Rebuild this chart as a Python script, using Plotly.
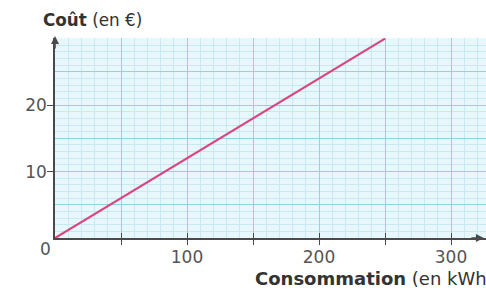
import plotly.graph_objects as go

# Data
consumption_kwh = [0, 250]
cost_eur = [0, 30]

x_tick_vals = [50, 100, 150, 200, 250, 300]
x_tick_text = ["", "100", "", "200", "", "300"]
y_tick_vals = [10, 20]
y_tick_text = ["10", "20"]

x_title_bold = "Consommation"
x_title_rest = " (en kWh)"
y_title_bold = "Coût"
y_title_rest = " (en €)"

font_family = "DejaVu Sans, Verdana, sans-serif"
label_color = "#555555"
title_color = "#333333"
axis_color = "#4a4a4a"
major_grid = "#93d2e6"
minor_grid = "#c6e9f3"

fig = go.Figure()
# Invisible trace to activate overlay axes
fig.add_trace(go.Scatter(x=consumption_kwh, y=cost_eur, xaxis="x2", yaxis="y2",
                         mode="lines", line=dict(width=0), opacity=0,
                         hoverinfo="skip", showlegend=False))
fig.add_trace(go.Scatter(
    x=consumption_kwh, y=cost_eur, mode="lines",
    line=dict(color="#d9467f", width=2.2),
    hoverinfo="skip", showlegend=False,
))

fig.update_layout(
    width=486, height=290,
    margin=dict(l=55, r=0, t=38, b=52, autoexpand=False),
    paper_bgcolor="white",
    plot_bgcolor="#e7f7fb",
    font=dict(family=font_family, size=17, color=label_color),
    xaxis=dict(
        range=[0, 326.5],
        tickvals=x_tick_vals, ticktext=x_tick_text,
        ticks="outside", ticklen=5, tickwidth=1.3, tickcolor=axis_color,
        showline=True, linecolor=axis_color, linewidth=1.6,
        showgrid=True, gridcolor=major_grid, gridwidth=1,
        minor=dict(dtick=10, showgrid=True, gridcolor=minor_grid, gridwidth=0.8),
        zeroline=False, ticklabelstandoff=-2,
        tickfont=dict(size=17, color=label_color),
    ),
    yaxis=dict(
        range=[0, 30.1],
        tickvals=y_tick_vals, ticktext=y_tick_text,
        ticks="outside", ticklen=6, tickwidth=1.3, tickcolor=axis_color,
        showline=True, linecolor=axis_color, linewidth=1.6,
        showgrid=False,
        minor=dict(dtick=1, showgrid=True, gridcolor=minor_grid, gridwidth=0.8),
        zeroline=False, ticklabelstandoff=-3,
        tickfont=dict(size=17, color=label_color),
    ),
    xaxis2=dict(
        overlaying="x", matches="x", side="bottom",
        tickvals=x_tick_vals, ticks="inside", ticklen=5, tickwidth=1.3,
        tickcolor=axis_color, showticklabels=False, showgrid=False,
        showline=False, zeroline=False,
    ),
    yaxis2=dict(
        overlaying="y", matches="y", dtick=5, showticklabels=False,
        ticks="", showgrid=True, gridcolor=major_grid, gridwidth=1,
        showline=False, zeroline=False, layer="below traces",
    ),
)

annotations = [
    dict(x=0, y=0, xref="x", yref="y", text="0", showarrow=False,
         xanchor="right", yanchor="top", xshift=-2, yshift=1,
         font=dict(size=17, color=label_color)),
    dict(x=0, y=1, xref="paper", yref="paper",
         text=f"<b>{y_title_bold}</b>{y_title_rest}", showarrow=False,
         xanchor="left", yanchor="bottom", xshift=-14, yshift=6,
         font=dict(size=16.8, color=title_color)),
    dict(x=1, y=0, xref="paper", yref="paper",
         text=f"<b>{x_title_bold}</b>{x_title_rest}", showarrow=False,
         xanchor="left", yanchor="top", xshift=-233, yshift=-28,
         font=dict(size=18, color=title_color)),
    dict(x=0, y=1, xref="paper", yref="paper", ax=0, ay=14,
         axref="pixel", ayref="pixel", text="", showarrow=True,
         arrowhead=2, arrowsize=1, arrowwidth=1.6, arrowcolor=axis_color, yshift=2),
    dict(x=0.995, y=0, xref="paper", yref="paper", ax=-14, ay=0,
         axref="pixel", ayref="pixel", text="", showarrow=True,
         arrowhead=2, arrowsize=1, arrowwidth=1.6, arrowcolor=axis_color),
]
fig.update_layout(annotations=annotations)

fig.write_html("out.html", config={"displayModeBar": False},
               post_script="document.body.style.margin='0';document.body.style.overflow='hidden';")
